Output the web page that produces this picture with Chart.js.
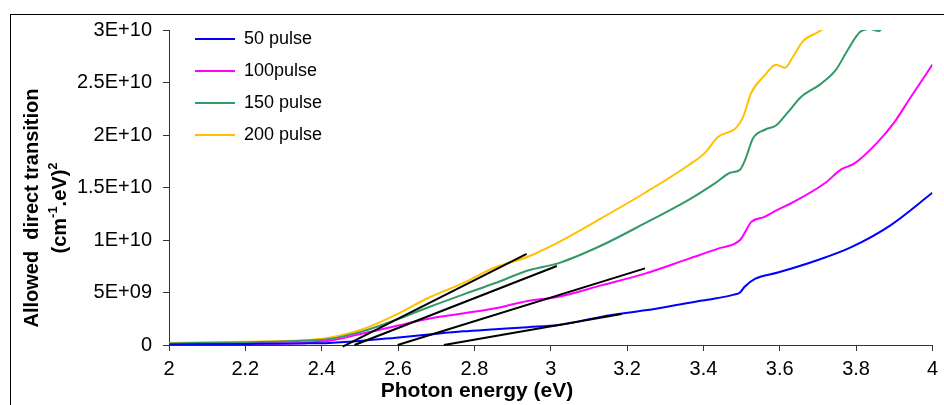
<!DOCTYPE html>
<html lang="en">
<head>
    <meta charset="UTF-8">
    <title>Allowed direct transition vs photon energy</title>
    <script src="https://cdn.jsdelivr.net/npm/chart.js"></script>
    <style>
        body { margin: 0; background: #fff; }
    </style>
</head>
<body>
    <canvas id="myChart" width="944" height="405"></canvas>
    <script>
        // axis ticks and titles
        const xTickLabels = ['2', '2.2', '2.4', '2.6', '2.8', '3', '3.2', '3.4', '3.6', '3.8', '4'];
        const yTickLabels = ['0', '5E+09', '1E+10', '1.5E+10', '2E+10', '2.5E+10', '3E+10'];
        const xTitle = 'Photon energy (eV)';
        const yTitle = 'Allowed  direct transition';

        const seriesLabels = ['50 pulse', '100pulse', '150 pulse', '200 pulse'];
        const seriesColors = ['#0000ff', '#ff00ff', '#339966', '#ffc000'];

        // 50 pulse
        const energy50 = [2.0, 2.2, 2.35, 2.42, 2.507, 2.595, 2.68, 2.77, 2.855, 2.94, 3.021, 3.134, 3.247, 3.36, 3.41, 3.48, 3.496, 3.508, 3.535, 3.595, 3.70, 3.786, 3.89, 4.0];
        const trans50 = [0.005e10, 0.01e10, 0.015e10, 0.02e10, 0.04e10, 0.07e10, 0.10e10, 0.13e10, 0.15e10, 0.17e10, 0.19e10, 0.27e10, 0.33e10, 0.40e10, 0.43e10, 0.48e10, 0.50e10, 0.555e10, 0.63e10, 0.69e10, 0.81e10, 0.93e10, 1.14e10, 1.45e10];

        // 100 pulse
        const energy100 = [2.0, 2.2, 2.35, 2.42, 2.507, 2.595, 2.68, 2.77, 2.855, 2.94, 3.021, 3.134, 3.247, 3.36, 3.44, 3.496, 3.51, 3.525, 3.56, 3.595, 3.63, 3.718, 3.76, 3.796, 3.856, 3.90, 3.943, 4.0];
        const trans100 = [0.005e10, 0.01e10, 0.02e10, 0.04e10, 0.11e10, 0.18e10, 0.25e10, 0.30e10, 0.35e10, 0.42e10, 0.46e10, 0.57e10, 0.68e10, 0.82e10, 0.92e10, 1.0e10, 1.08e10, 1.17e10, 1.22e10, 1.29e10, 1.35e10, 1.54e10, 1.67e10, 1.73e10, 1.93e10, 2.12e10, 2.36e10, 2.67e10];

        // 150 pulse
        const energy150 = [2.0, 2.2, 2.35, 2.42, 2.507, 2.595, 2.68, 2.77, 2.855, 2.94, 3.021, 3.134, 3.247, 3.36, 3.43, 3.47, 3.496, 3.509, 3.53, 3.561, 3.59, 3.62, 3.655, 3.705, 3.747, 3.778, 3.81, 3.835, 3.86, 3.88];
        const trans150 = [0.015e10, 0.025e10, 0.04e10, 0.057e10, 0.13e10, 0.24e10, 0.36e10, 0.48e10, 0.59e10, 0.71e10, 0.78e10, 0.95e10, 1.16e10, 1.38e10, 1.54e10, 1.64e10, 1.67e10, 1.76e10, 1.97e10, 2.05e10, 2.09e10, 2.21e10, 2.36e10, 2.48e10, 2.62e10, 2.81e10, 2.98e10, 3.01e10, 2.99e10, 3.1e10];

        // 200 pulse
        const energy200 = [2.0, 2.2, 2.35, 2.42, 2.507, 2.595, 2.68, 2.77, 2.855, 2.94, 3.021, 3.134, 3.247, 3.36, 3.404, 3.438, 3.486, 3.504, 3.525, 3.561, 3.59, 3.613, 3.634, 3.66, 3.70, 3.73];
        const trans200 = [0.02e10, 0.03e10, 0.045e10, 0.07e10, 0.15e10, 0.29e10, 0.45e10, 0.59e10, 0.74e10, 0.84e10, 0.98e10, 1.21e10, 1.45e10, 1.71e10, 1.83e10, 1.98e10, 2.07e10, 2.17e10, 2.40e10, 2.57e10, 2.67e10, 2.64e10, 2.74e10, 2.89e10, 2.98e10, 3.05e10];

        // linear fits (band gap extrapolation)
        const fitEnergy = [[2.455, 2.937], [2.486, 3.016], [2.599, 3.247], [2.72, 3.186]];
        const fitTrans = [[-0.015e10, 0.867e10], [0, 0.752e10], [0, 0.73e10], [0, 0.295e10]];

        const FONT = '"Liberation Sans", Arial, sans-serif';

        function toPoints(xs, ys) {
            return xs.map((x, i) => ({ x: x, y: ys[i] }));
        }

        const curves = [
            [energy50, trans50],
            [energy100, trans100],
            [energy150, trans150],
            [energy200, trans200]
        ].map((s, i) => ({
            label: seriesLabels[i],
            data: toPoints(s[0], s[1]),
            borderColor: seriesColors[i],
            backgroundColor: seriesColors[i],
            borderWidth: 2,
            showLine: true,
            pointRadius: 0,
            cubicInterpolationMode: 'monotone',
            order: 1
        }));

        const fits = fitEnergy.map((xs, i) => ({
            label: 'fit' + i,
            data: toPoints(xs, fitTrans[i]),
            borderColor: '#000',
            backgroundColor: '#000',
            borderWidth: 2,
            showLine: true,
            pointRadius: 0,
            clip: 4,
            order: 0
        }));

        // frame round the whole chart, legend placement and axis titles
        const extras = {
            id: 'extras',
            afterLayout(chart) {
                chart.legend.left = 181;
                chart.legend.top = 16;
            },
            afterDraw(chart) {
                const ctx = chart.ctx;
                ctx.save();
                ctx.strokeStyle = '#000';
                ctx.lineWidth = 1;
                ctx.strokeRect(10.5, 14.5, 1000, 1000);

                ctx.fillStyle = '#000';
                ctx.textAlign = 'center';
                ctx.textBaseline = 'alphabetic';
                ctx.font = 'bold 21px ' + FONT;
                ctx.fillText(xTitle, 477, 397);

                ctx.translate(0, 208);
                ctx.rotate(-Math.PI / 2);
                ctx.textBaseline = 'middle';
                ctx.font = 'bold 20px ' + FONT;
                ctx.fillText(yTitle, 0, 32);

                // second line with superscripts
                const big = 'bold 20px ' + FONT;
                const small = 'bold 13px ' + FONT;
                const parts = [['(cm', big, 0], ['-1', small, -7], ['.', big, 0], ['eV)', big, 0], ['2', small, -7]];
                let total = 0;
                parts.forEach(p => { ctx.font = p[1]; total += ctx.measureText(p[0]).width; });
                let u = -total / 2;
                ctx.textAlign = 'left';
                parts.forEach(p => {
                    ctx.font = p[1];
                    ctx.fillText(p[0], u, 60 + p[2]);
                    u += ctx.measureText(p[0]).width;
                });
                ctx.restore();
            }
        };

        const ctx = document.getElementById('myChart').getContext('2d');
        new Chart(ctx, {
            type: 'scatter',
            data: { datasets: curves.concat(fits) },
            options: {
                responsive: false,
                animation: false,
                layout: { padding: { left: 0, top: 30, right: 9, bottom: 0 } },
                plugins: {
                    tooltip: { enabled: false },
                    legend: {
                        position: 'chartArea',
                        align: 'start',
                        labels: {
                            filter: item => seriesLabels.includes(item.text),
                            usePointStyle: true,
                            pointStyle: 'line',
                            pointStyleWidth: 40,
                            padding: 14,
                            color: '#000',
                            font: { family: FONT, size: 18 }
                        }
                    }
                },
                scales: {
                    x: {
                        type: 'linear',
                        min: 2,
                        max: 4,
                        afterFit: s => { s.height = 60; },
                        border: { display: true, color: '#333', width: 1 },
                        grid: { drawOnChartArea: false, drawTicks: true, tickLength: 6, color: '#333' },
                        ticks: {
                            stepSize: 0.2,
                            padding: 6,
                            color: '#000',
                            font: { family: FONT, size: 20 },
                            callback: (v, i) => xTickLabels[i]
                        }
                    },
                    y: {
                        min: 0,
                        max: 3e10,
                        afterFit: s => { s.width = 169; },
                        border: { display: true, color: '#333', width: 1 },
                        grid: { drawOnChartArea: false, drawTicks: true, tickLength: 6, color: '#333' },
                        ticks: {
                            stepSize: 5e9,
                            padding: 11,
                            color: '#000',
                            font: { family: FONT, size: 20 },
                            callback: (v, i) => yTickLabels[i]
                        }
                    }
                }
            },
            plugins: [extras]
        });
    </script>
</body>
</html>
